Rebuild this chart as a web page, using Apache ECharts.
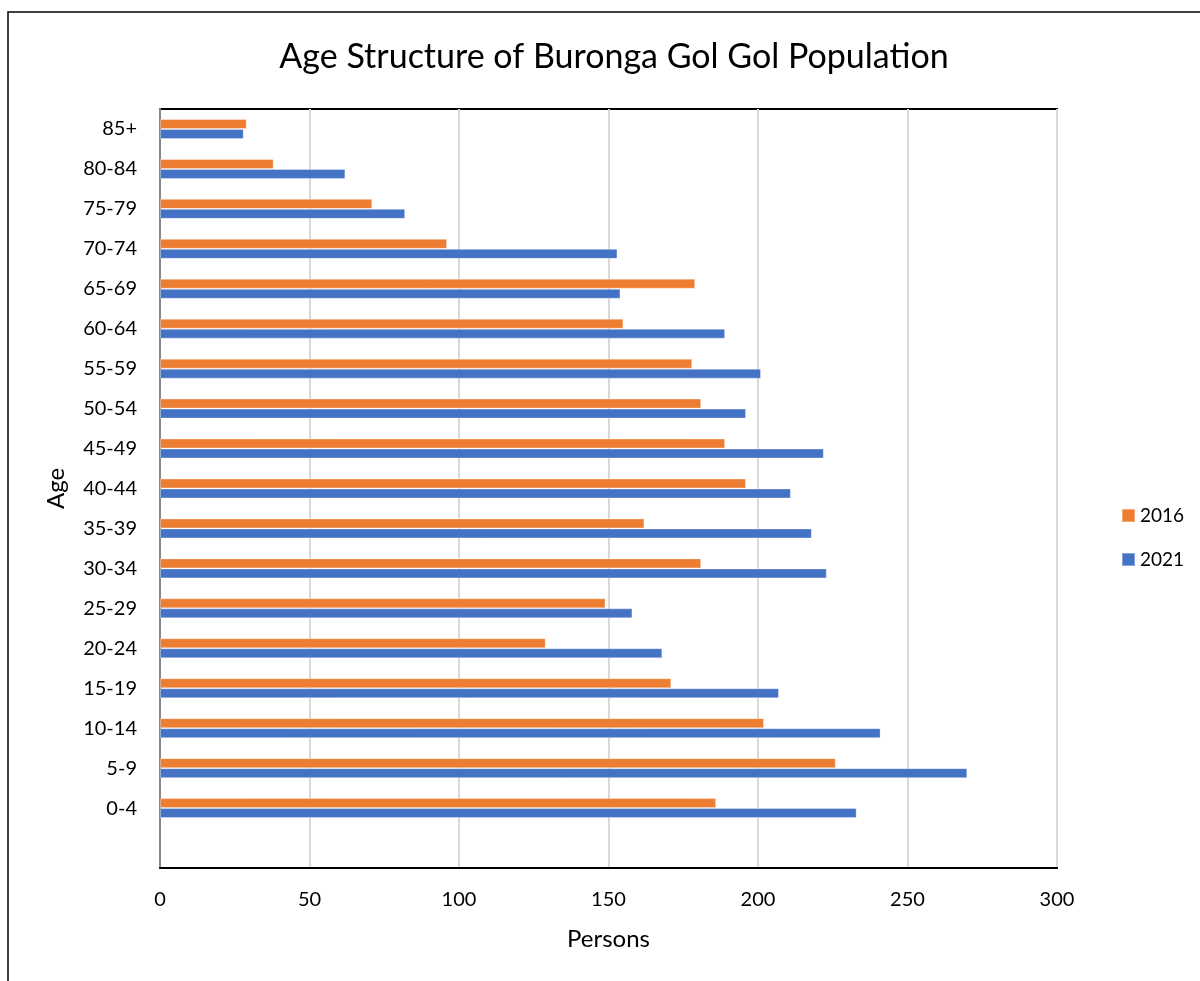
<!DOCTYPE html>
<html><head><meta charset="utf-8">
<script src="https://cdn.jsdelivr.net/npm/echarts@6/dist/echarts.min.js"></script>
<style>html,body{margin:0;padding:0;background:#fff}#c{width:1200px;height:981px}</style>
</head><body><div id="c"></div>
<script>
const categories = ['', '0-4','5-9','10-14','15-19','20-24','25-29','30-34','35-39','40-44','45-49','50-54','55-59','60-64','65-69','70-74','75-79','80-84','85+'];
const values2016 = [null, 186,226,202,171,129,149,181,162,196,189,181,178,155,179,96,71,38,29];
const values2021 = [null, 233,270,241,207,168,158,223,218,211,222,196,201,189,154,153,82,62,28];
const xTicks = [0,50,100,150,200,250,300];

const FONT = 'Lato';
const chart = echarts.init(document.getElementById('c'));
chart.setOption({
  animation: false,
  backgroundColor: '#fff',
  textStyle: {fontFamily: FONT},
  title: {text: 'Age Structure of Buronga Gol Gol Population', left: 609, top: 35, textAlign: 'center',
    textStyle: {fontFamily: FONT, fontSize: 34, fontWeight: 'normal', color: '#000'}},
  graphic: [{type: 'rect', shape: {x: 8, y: 12, width: 1300, height: 1100}, style: {fill: 'none', stroke: '#000', lineWidth: 1.5}, silent: true}],
  legend: {orient: 'vertical', left: 1116, top: 501, itemWidth: 13, itemHeight: 13, itemGap: 25,
    data: ['2016','2021'], icon: 'rect', textStyle: {fontFamily: FONT, fontSize: 19, color: '#000'}},
  grid: {left: 160, right: 143, top: 109, bottom: 113, show: true, borderColor: '#000', borderWidth: 2, backgroundColor: 'transparent'},
  xAxis: {type: 'value', min: 0, max: 300, interval: 50,
    name: 'Persons', nameLocation: 'middle', nameGap: 59, nameTextStyle: {fontFamily: FONT, fontSize: 24, color: '#000'},
    axisLine: {show: true, lineStyle: {color: '#000', width: 2}}, axisTick: {show: false},
    axisLabel: {fontFamily: FONT, fontSize: 20, color: '#000', margin: 22, formatter: v => xTicks.includes(v) ? String(v) : ''},
    splitLine: {show: true, lineStyle: {color: '#D9D9D9', width: 2}}},
  yAxis: {type: 'category', data: categories,
    name: 'Age', nameLocation: 'middle', nameGap: 92, nameRotate: 90, nameTextStyle: {fontFamily: FONT, fontSize: 24, color: '#000'},
    axisLine: {show: true, lineStyle: {color: '#888', width: 2}}, axisTick: {show: false},
    axisLabel: {fontFamily: FONT, fontSize: 20, color: '#000', margin: 23}},
  series: [
    {name: '2016', type: 'bar', data: values2016, barWidth: 10, barGap: '0%', itemStyle: {color: '#ED7D31', borderColor: 'rgba(255,255,255,0.35)', borderWidth: 1}},
    {name: '2021', type: 'bar', data: values2021, barWidth: 10, barGap: '0%', itemStyle: {color: '#4472C4', borderColor: 'rgba(255,255,255,0.35)', borderWidth: 1}}
  ]
});
</script></body></html>
